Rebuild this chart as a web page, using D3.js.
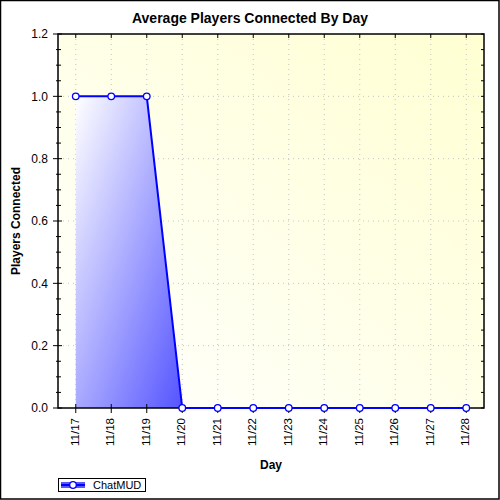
<!DOCTYPE html>
<html><head><meta charset="utf-8">
<script src="https://cdn.jsdelivr.net/npm/d3@7"></script>
<style>body{margin:0;background:#fff}svg{display:block}</style>
</head><body>
<script>
const categories = ["11/17","11/18","11/19","11/20","11/21","11/22","11/23","11/24","11/25","11/26","11/27","11/28"];
const values = [1,1,1,0,0,0,0,0,0,0,0,0];
const yTicks = [0,0.2,0.4,0.6,0.8,1.0,1.2];
const seriesName = "ChatMUD";

const W=500,H=500;
const m={l:58,r:16,t:34,b:92};
const svg=d3.select("body").append("svg").attr("width",W).attr("height",H);
const defs=svg.append("defs");
const bg=defs.append("linearGradient").attr("id","bg").attr("x1","0").attr("y1","1").attr("x2","1").attr("y2","0");
bg.append("stop").attr("offset","0").attr("stop-color","#ffffff");
bg.append("stop").attr("offset","1").attr("stop-color","#ffffd2");
const ag=defs.append("linearGradient").attr("id","ag").attr("x1","0").attr("y1","0").attr("x2","1").attr("y2","1");
ag.append("stop").attr("offset","0").attr("stop-color","#ffffff");
ag.append("stop").attr("offset","1").attr("stop-color","#5454ff");

svg.append("rect").attr("x",0.5).attr("y",0.5).attr("width",W-1.5).attr("height",H-1.5).attr("fill","#fff").attr("stroke","#000").attr("stroke-width",1.5);

const x=d3.scalePoint().domain(categories).range([m.l,W-m.r]).padding(0.5);
const y=d3.scaleLinear().domain([0,1.2]).range([H-m.b,m.t]);
const x0=m.l,x1=W-m.r,y0=H-m.b,y1=m.t;

svg.append("rect").attr("x",x0).attr("y",y1).attr("width",x1-x0).attr("height",y0-y1).attr("fill","url(#bg)");

// grid
const g=svg.append("g").attr("stroke","#c4c4c4").attr("stroke-dasharray","1,4");
g.selectAll(".gy").data(yTicks.slice(1,-1)).join("line").attr("x1",x0).attr("x2",x1).attr("y1",d=>y(d)).attr("y2",d=>y(d));
g.selectAll(".gx").data(categories).join("line").attr("x1",d=>x(d)).attr("x2",d=>x(d)).attr("y1",y1).attr("y2",y0);

// area
const data=categories.map((c,i)=>({c,v:values[i]}));
const nz=data.filter((d,i)=>d.v>0||(i>0&&values[i-1]>0));
svg.append("path").datum(nz)
  .attr("d",d3.area().x(d=>x(d.c)).y0(y(0)).y1(d=>y(d.v)))
  .attr("fill","url(#ag)");

// axes
const ax=svg.append("g").attr("stroke","#000").attr("stroke-width",1);
ax.append("rect").attr("x",x0).attr("y",y1).attr("width",x1-x0).attr("height",y0-y1).attr("fill","none").attr("stroke","#000").attr("stroke-width",1.5);
const minor=d3.range(0,1.2001,0.05).filter(v=>Math.abs(Math.round(v*5)-v*5)>1e-6);
ax.selectAll(".ym").data(yTicks).join("line").attr("x1",x0-5).attr("x2",x0+4).attr("y1",d=>y(d)).attr("y2",d=>y(d));
ax.selectAll(".yn").data(minor).join("line").attr("x1",x0-2).attr("x2",x0+3).attr("y1",d=>y(d)).attr("y2",d=>y(d));
ax.selectAll(".yr").data(minor.concat(yTicks)).join("line").attr("x1",x1-3).attr("x2",x1).attr("y1",d=>y(d)).attr("y2",d=>y(d));
ax.selectAll(".xb").data(categories).join("line").attr("x1",d=>x(d)).attr("x2",d=>x(d)).attr("y1",y0-4).attr("y2",y0+5);
ax.selectAll(".xt").data(categories).join("line").attr("x1",d=>x(d)).attr("x2",d=>x(d)).attr("y1",y1).attr("y2",y1+4);

// line
svg.append("path").datum(data).attr("d",d3.line().x(d=>x(d.c)).y(d=>y(d.v)))
  .attr("fill","none").attr("stroke","#0000ff").attr("stroke-width",2);

// markers
svg.selectAll(".mk").data(data).join("circle").attr("cx",d=>x(d.c)).attr("cy",d=>y(d.v)).attr("r",3.3)
  .attr("fill","#fff").attr("stroke","#0000ff").attr("stroke-width",1.3);

const font="Liberation Sans, Arial, sans-serif";
// y labels
svg.selectAll(".yl").data(yTicks).join("text").attr("x",x0-10).attr("y",d=>y(d)).attr("dy","0.35em")
  .attr("text-anchor","end").attr("font-family",font).attr("font-size",12).attr("fill","#000").text(d=>d.toFixed(1));
// x labels
svg.selectAll(".xl").data(categories).join("text")
  .attr("transform",d=>`translate(${x(d)-1},${y0+10}) rotate(-90)`).attr("dy","0.35em")
  .attr("text-anchor","end").attr("font-family",font).attr("font-size",11.5).attr("fill","#000").text(d=>d);

svg.append("text").attr("x",250).attr("y",23).attr("text-anchor","middle").attr("font-family",font)
  .attr("font-size",14).attr("font-weight","bold").text("Average Players Connected By Day");
svg.append("text").attr("transform",`translate(20,${(y0+y1)/2}) rotate(-90)`).attr("text-anchor","middle")
  .attr("font-family",font).attr("font-size",12).attr("font-weight","bold").text("Players Connected");
svg.append("text").attr("x",(x0+x1)/2).attr("y",469).attr("text-anchor","middle")
  .attr("font-family",font).attr("font-size",12).attr("font-weight","bold").text("Day");

// legend
const lg=svg.append("g");
lg.append("rect").attr("x",58.5).attr("y",478.5).attr("width",87).attr("height",13).attr("fill","#fff").attr("stroke","#000");
lg.append("rect").attr("x",61).attr("y",482).attr("width",24).attr("height",6).attr("fill","#5a5aff");
lg.append("line").attr("x1",61).attr("x2",85).attr("y1",485).attr("y2",485).attr("stroke","#0000ff").attr("stroke-width",2);
lg.append("circle").attr("cx",73).attr("cy",485).attr("r",3.3).attr("fill","#fff").attr("stroke","#0000ff").attr("stroke-width",1.3);
lg.append("text").attr("x",93).attr("y",485).attr("dy","0.35em").attr("font-family",font).attr("font-size",11).text(seriesName);
</script>
</body></html>
